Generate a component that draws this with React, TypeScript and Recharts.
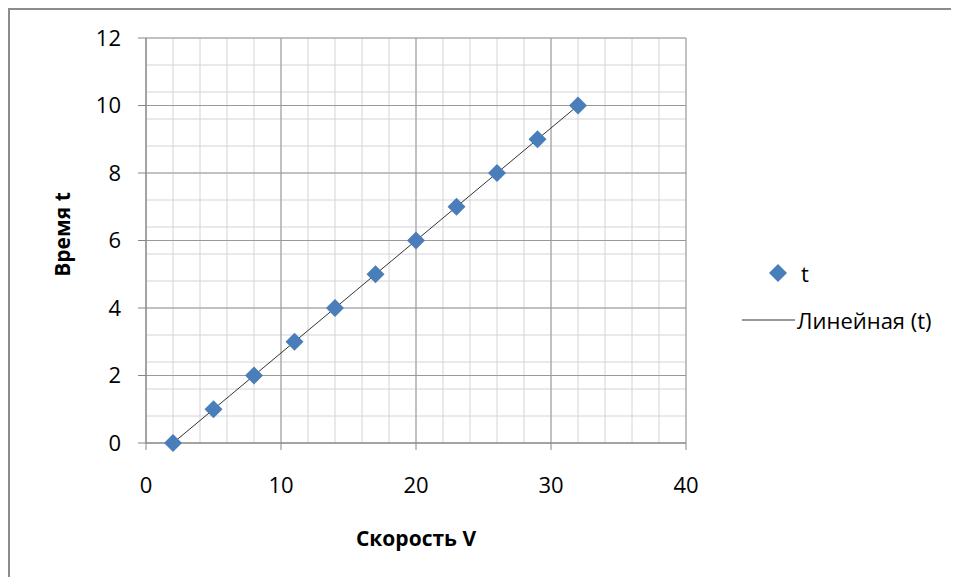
import { ScatterChart, Scatter, XAxis, YAxis, CartesianGrid } from 'recharts'

const speed = [2, 5, 8, 11, 14, 17, 20, 23, 26, 29, 32]
const time = [0, 1, 2, 3, 4, 5, 6, 7, 8, 9, 10]
const trendSpeed = [2, 32]
const trendTime = [0, 10]
const xTicks = [0, 10, 20, 30, 40]
const yTicks = [0, 2, 4, 6, 8, 10, 12]

const points = speed.map((v, i) => ({ v, t: time[i] }))
const trend = trendSpeed.map((v, i) => ({ v, t: trendTime[i] }))

// minor grid: every 2 on x, every 0.4 on y
const xMinor = Array.from({ length: 21 }, (_, i) => i * 2)
const yMinor = Array.from({ length: 31 }, (_, i) => +(i * 0.4).toFixed(1))

const FONT = '"Open Sans", sans-serif'
const BLUE = '#4a7ebb'
const AXIS = '#868686'

function Diamond(props: any) {
  const { cx, cy } = props
  const r = 9
  return <polygon points={`${cx},${cy - r} ${cx + r},${cy} ${cx},${cy + r} ${cx - r},${cy}`} fill={BLUE} />
}

function YTitle(props: any) {
  const { viewBox } = props
  const x = 52
  const y = viewBox.y + viewBox.height / 2 - 6
  return (
    <text x={x} y={y} transform={`rotate(-90, ${x}, ${y})`} textAnchor="middle" dominantBaseline="central"
      fontFamily={FONT} fontWeight="bold" fontSize={21} fill="#000">
      Время t
    </text>
  )
}

function XTitle(props: any) {
  const { viewBox } = props
  const x = viewBox.x + viewBox.width / 2
  return (
    <text x={x} y={528} textAnchor="middle" dominantBaseline="central"
      fontFamily={FONT} fontWeight="bold" fontSize={21} fill="#000">
      Скорость V
    </text>
  )
}

function LegendBox() {
  return (
    <div style={{ position: 'absolute', left: 730, top: 240, width: 225, height: 90 }}>
      <svg width={225} height={90} style={{ position: 'absolute', left: 0, top: 0 }}>
        <polygon points="38,14 47,23 38,32 29,23" fill={BLUE} />
        <text x={61} y={23} dominantBaseline="central" fontFamily={FONT} fontSize={22} fill="#000">t</text>
        <line x1={2} x2={55} y1={70} y2={70} stroke="#333" strokeWidth={1} />
        <text x={57} y={70} dominantBaseline="central" fontFamily={FONT} fontSize={22} fill="#000">Линейная (t)</text>
      </svg>
    </div>
  )
}

export default function App() {
  return (
    <div style={{ position: 'relative', width: 951, height: 569, borderTop: '2px solid #8c8c8c', borderLeft: '2px solid #8c8c8c', background: '#fff' }}>
      <ScatterChart width={949} height={567} margin={{ top: 28, right: 273, left: 0, bottom: 24 }}>
        <CartesianGrid stroke="#d4d4d4" verticalValues={xMinor} horizontalValues={yMinor} />
        <CartesianGrid stroke="#999999" verticalValues={xTicks} horizontalValues={yTicks} />
        <XAxis type="number" dataKey="v" domain={[0, 40]} ticks={xTicks} height={110}
          stroke={AXIS} tickSize={7} tickMargin={27}
          tick={{ fontFamily: FONT, fontSize: 22, fill: '#000' }} label={<XTitle />} />
        <YAxis type="number" dataKey="t" domain={[0, 12]} ticks={yTicks} width={136}
          stroke={AXIS} tickSize={8} tickMargin={17}
          tick={{ fontFamily: FONT, fontSize: 22, fill: '#000' }} label={<YTitle />} />
        <Scatter data={trend} line={{ stroke: '#333', strokeWidth: 1 }} shape={() => <g />} isAnimationActive={false} legendType="none" />
        <Scatter data={points} shape={<Diamond />} isAnimationActive={false} />
      </ScatterChart>
      <LegendBox />
    </div>
  )
}
